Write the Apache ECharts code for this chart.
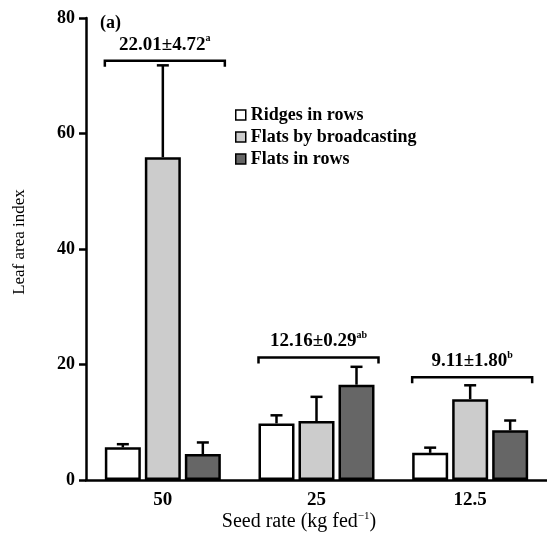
<!DOCTYPE html>
<html>
<head>
<meta charset="utf-8">
<script src="https://cdn.jsdelivr.net/npm/echarts@6/dist/echarts.min.js"></script>
<style>
  html, body { margin: 0; padding: 0; background: #fff; }
  #chart { width: 547px; height: 535px; }
</style>
</head>
<body>
<div id="chart"></div>
<script>
// Leaf area index by seed rate and sowing method (means with upper SE bars)
const seedRates = ['50', '25', '12.5'];
const seriesNames = ['Ridges in rows', 'Flats by broadcasting', 'Flats in rows'];
const ridgesRows = [5.65, 9.8, 4.7];
const flatsBroadcast = [55.9, 10.2, 14.0];
const flatsRows = [4.5, 16.5, 8.6];
const ridgesRowsErr = [0.55, 1.4, 0.9];
const flatsBroadcastErr = [15.9, 4.2, 2.4];
const flatsRowsErr = [2.0, 3.1, 1.7];
// Seed-rate means with their significance letters
const groupMeans = ['22.01±4.72', '12.16±0.29', '9.11±1.80'];
const groupLetters = ['a', 'ab', 'b'];
const bracketLevel = [72.6, 21.2, 17.8];

const FONT = '"Liberation Serif", "Times New Roman", serif';
const BAR_W = 36;
const BAR_GAP = 4;
const STEP = BAR_W + BAR_GAP;
const fills = ['#ffffff', '#cccccc', '#666666'];
const means = [ridgesRows, flatsBroadcast, flatsRows];
const errs = [ridgesRowsErr, flatsBroadcastErr, flatsRowsErr];

const barSeries = seriesNames.map((name, k) => ({
  name,
  type: 'bar',
  data: means[k],
  barWidth: BAR_W,
  barGap: (BAR_GAP / BAR_W * 100) + '%',
  itemStyle: { color: fills[k], borderColor: '#000', borderWidth: 2.5 },
  z: 2
}));

const errorSeries = seriesNames.map((name, k) => ({
  type: 'custom',
  silent: true,
  z: 3,
  data: means[k].map((m, i) => [i, m, m + errs[k][i]]),
  renderItem(params, api) {
    const base = api.coord([api.value(0), api.value(1)]);
    const top = api.coord([api.value(0), api.value(2)]);
    const x = base[0] + (k - 1) * STEP;
    const st = { stroke: '#000', lineWidth: 2.5 };
    return {
      type: 'group',
      children: [
        { type: 'line', shape: { x1: x, y1: base[1], x2: x, y2: top[1] }, style: st },
        { type: 'line', shape: { x1: x - 6, y1: top[1], x2: x + 6, y2: top[1] }, style: st }
      ]
    };
  }
}));

const bracketSeries = {
  type: 'custom',
  silent: true,
  z: 4,
  data: bracketLevel.map((v, i) => [i, v]),
  renderItem(params, api) {
    const p = api.coord([api.value(0), api.value(1)]);
    const i = params.dataIndex;
    const half = 1.5 * STEP - BAR_GAP / 2 + 2;
    const x0 = p[0] - half + 2, x1 = p[0] + half + 2;
    const y = p[1];
    return {
      type: 'group',
      children: [
        {
          type: 'polyline',
          shape: { points: [[x0, y + 6], [x0, y], [x1, y], [x1, y + 6]] },
          style: { stroke: '#000', lineWidth: 2.5, fill: null }
        },
        {
          type: 'text',
          style: {
            x: (x0 + x1) / 2,
            y: y - 5,
            align: 'center',
            verticalAlign: 'bottom',
            text: '{m|' + groupMeans[i] + '}{s|' + groupLetters[i] + '}',
            rich: {
              m: { fontFamily: FONT, fontSize: 19, fontWeight: 'bold', color: '#000' },
              s: { fontFamily: FONT, fontSize: 10, fontWeight: 'bold', color: '#000', padding: [0, 0, 12, 0] }
            }
          }
        }
      ]
    };
  }
};

const chart = echarts.init(document.getElementById('chart'), null, { renderer: 'canvas' });
chart.setOption({
  backgroundColor: '#fff',
  animation: false,
  grid: { left: 86, right: 0, top: 18, bottom: 55, containLabel: false },
  legend: {
    data: seriesNames,
    orient: 'vertical',
    left: 235,
    top: 106,
    padding: 0,
    itemWidth: 10,
    itemHeight: 10,
    itemGap: 4,
    icon: 'rect',
    itemStyle: { borderColor: '#000', borderWidth: 1.5 },
    textStyle: { fontFamily: FONT, fontSize: 18, fontWeight: 'bold', color: '#000' },
    selectedMode: false
  },
  xAxis: {
    type: 'category',
    data: seedRates,
    axisLine: { lineStyle: { color: '#000', width: 2.5 } },
    axisTick: { alignWithLabel: true, length: 7, lineStyle: { color: '#000', width: 2.5 } },
    axisLabel: { fontFamily: FONT, fontSize: 19, fontWeight: 'bold', color: '#000', margin: 11 }
  },
  yAxis: {
    type: 'value',
    min: 0,
    max: 80,
    interval: 20,
    splitLine: { show: false },
    axisLine: { show: true, lineStyle: { color: '#000', width: 2.5 } },
    axisTick: { show: true, length: 7, lineStyle: { color: '#000', width: 2.5 } },
    axisLabel: { fontFamily: FONT, fontSize: 18, fontWeight: 'bold', color: '#000', margin: 11 }
  },
  graphic: [
    {
      type: 'text',
      left: 100,
      top: 14,
      style: { text: '(a)', fontFamily: FONT, fontSize: 18, fontWeight: 'bold', fill: '#000' }
    },
    {
      type: 'text',
      x: 20,
      y: 242,
      rotation: Math.PI / 2,
      style: {
        text: 'Leaf area index', fontFamily: FONT, fontSize: 17, fill: '#000',
        align: 'center', verticalAlign: 'middle'
      }
    },
    {
      type: 'text',
      x: 299,
      y: 522,
      style: {
        text: '{t|Seed rate (kg fed}{s|−1}{t|)}',
        align: 'center',
        verticalAlign: 'middle',
        rich: {
          t: { fontFamily: FONT, fontSize: 20, color: '#000' },
          s: { fontFamily: FONT, fontSize: 11, color: '#000', padding: [0, 0, 11, 0] }
        }
      }
    }
  ],
  series: [...barSeries, ...errorSeries, bracketSeries]
});
</script>
</body>
</html>
